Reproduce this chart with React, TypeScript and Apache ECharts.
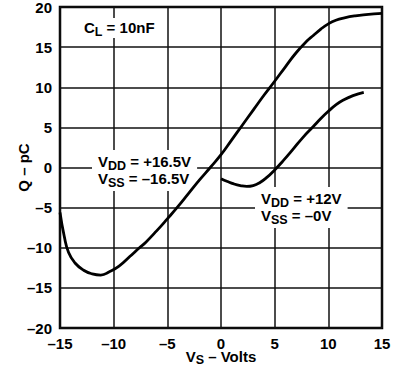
import React, { useEffect, useRef } from "react";
import * as echarts from "echarts";

// Curve for VDD = +16.5V, VSS = -16.5V
const curveAX = [-15, -14.6, -14.2, -13.6, -12.8, -12, -11.2, -10.4, -9.5, -8.5, -7.6, -7, -6, -5, -4, -3, -2, -1, 0, 1, 2, 3, 4, 5, 6, 7, 8, 8.6, 9.3, 10, 10.7, 11.5, 12.5, 13.5, 15];
const curveAY = [-5.6, -8.6, -10.6, -11.9, -12.8, -13.25, -13.4, -13.0, -12.3, -11.1, -10.0, -9.3, -7.9, -6.4, -4.85, -3.2, -1.55, 0.0, 1.6, 3.45, 5.3, 7.15, 9.0, 10.75, 12.55, 14.3, 15.75, 16.45, 17.25, 17.9, 18.35, 18.65, 18.9, 19.05, 19.2];

// Curve for VDD = +12V, VSS = -0V
const curveBX = [0, 0.6, 1.2, 1.8, 2.4, 3.0, 3.6, 4.3, 5.0, 5.8, 6.7, 7.6, 8.6, 9.3, 10.0, 10.7, 11.4, 12.3, 13.3];
const curveBY = [-1.4, -1.75, -2.05, -2.25, -2.35, -2.25, -1.9, -1.2, -0.3, 0.85, 2.25, 3.7, 5.1, 6.1, 7.0, 7.8, 8.4, 8.95, 9.35];

const xTicks = [-15, -10, -5, 0, 5, 10, 15];
const yTicks = [-20, -15, -10, -5, 0, 5, 10, 15, 20];

const FONT = '"Liberation Sans", Arial, Helvetica, sans-serif';

export default function App() {
  const ref = useRef<HTMLDivElement>(null);
  useEffect(() => {
    if (!ref.current) return;
    const chart = echarts.init(ref.current, null, { renderer: "svg" });
    const gl = 60, gr = 21, gt = 7, gb = 46;
    const textBase = { fontFamily: FONT, fontWeight: "bold", color: "#000" } as any;
    const rich = {
      v: { ...textBase, fontSize: 15, lineHeight: 17 },
      s: { ...textBase, fontSize: 12.5, lineHeight: 17, padding: [8, 0, 0, 0] },
    };
    const nameRich = {
      v: { ...textBase, fontSize: 15, lineHeight: 12 },
      s: { ...textBase, fontSize: 12.5, lineHeight: 12, padding: [8, 0, 0, 0] },
    };
    const toPair = (xs: number[], ys: number[]) => xs.map((x, i) => [x, ys[i]]);
    const fmt = (v: number) => (v < 0 ? "\u2013" + Math.abs(v) : String(v));
    chart.setOption({
      animation: false,
      backgroundColor: "#fff",
      grid: {
        left: gl, right: gr, top: gt, bottom: gb,
        outerBoundsMode: "none", containLabel: false,
        show: true, borderColor: "#000", borderWidth: 2.5, backgroundColor: "transparent",
      },
      xAxis: {
        type: "value", min: xTicks[0], max: xTicks[xTicks.length - 1], interval: 5,
        axisLine: { show: false }, axisTick: { show: false },
        splitLine: { show: true, lineStyle: { color: "#111", width: 1.5 } },
        axisLabel: {
          margin: 8, fontFamily: FONT, fontWeight: "bold", fontSize: 15, color: "#000",
          formatter: fmt,
        },
        name: "{v|V}{s|S}{v| \u2013 Volts}",
        nameLocation: "middle", nameGap: 22, nameMoveOverlap: false,
        nameTextStyle: { rich: nameRich },
      },
      yAxis: {
        type: "value", min: yTicks[0], max: yTicks[yTicks.length - 1], interval: 5,
        axisLine: { show: false }, axisTick: { show: false },
        splitLine: { show: true, lineStyle: { color: "#111", width: 1.5 } },
        axisLabel: {
          margin: 8, fontFamily: FONT, fontWeight: "bold", fontSize: 15, color: "#000",
          formatter: fmt,
        },
        name: "Q \u2013 pC",
        nameLocation: "middle", nameGap: 29, nameMoveOverlap: false,
        nameTextStyle: { fontFamily: FONT, fontWeight: "bold", fontSize: 15, color: "#000" },
      },
      graphic: [
        {
          type: "text", x: 78, y: 18, z: 5,
          style: {
            text: "{v|C}{s|L}{v| = 10nF}", rich, backgroundColor: "#fff", padding: [1, 6, 2, 6],
          },
        },
        {
          type: "text", x: 92, y: 150, z: 5,
          style: {
            text: "{v|V}{s|DD}{v| = +16.5V}\n{v|V}{s|SS}{v| = \u201316.5V}", rich,
            backgroundColor: "#fff", padding: [3, 6, 4, 6],
          },
        },
        {
          type: "text", x: 255, y: 187, z: 5,
          style: {
            text: "{v|V}{s|DD}{v| = +12V}\n{v|V}{s|SS}{v| = \u20130V}", rich,
            backgroundColor: "#fff", padding: [3, 6, 4, 6],
          },
        },
      ],
      series: [
        {
          type: "line", data: toPair(curveAX, curveAY), showSymbol: false, symbol: "none",
          smooth: 0.5, z: 10, lineStyle: { color: "#000", width: 2.8 },
        },
        {
          type: "line", data: toPair(curveBX, curveBY), showSymbol: false, symbol: "none",
          smooth: 0.5, z: 10, lineStyle: { color: "#000", width: 2.8 },
        },
      ],
    });
    return () => chart.dispose();
  }, []);
  return <div ref={ref} style={{ position: "fixed", left: 0, top: 0, width: 403, height: 374 }} />;
}
